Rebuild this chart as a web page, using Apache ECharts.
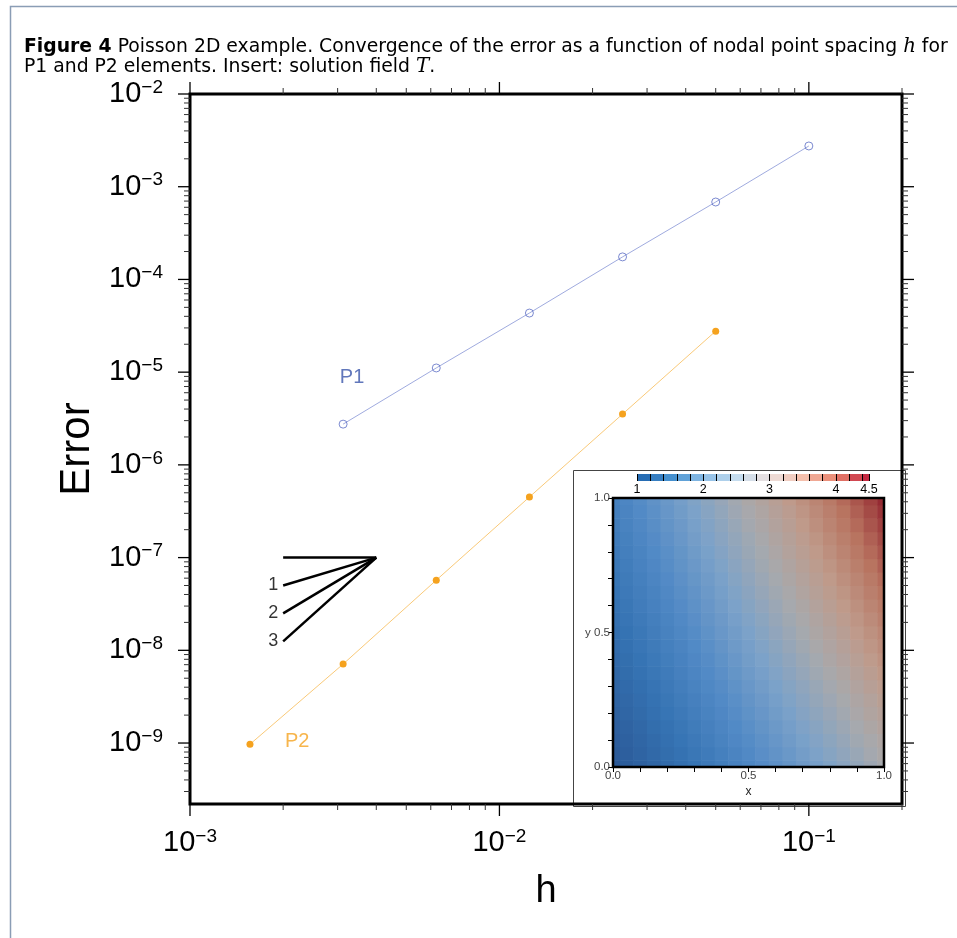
<!DOCTYPE html>
<html><head><meta charset="utf-8">
<script src="https://cdn.jsdelivr.net/npm/echarts@6/dist/echarts.min.js"></script>
<style>html,body{margin:0;padding:0;background:#fff}#c{width:957px;height:938px}</style>
</head><body><div id="c"></div><script>
// ---- data ----
const hP1 = [0.1, 0.05, 0.025, 0.0125, 0.00625, 0.003125];
const errP1 = [2.75e-3, 6.84e-4, 1.75e-4, 4.34e-5, 1.11e-5, 2.75e-6];
const hP2 = [0.05, 0.025, 0.0125, 0.00625, 0.003125, 0.0015625];
const errP2 = [2.77e-5, 3.53e-6, 4.5e-7, 5.71e-8, 7.1e-9, 9.7e-10];
const slopeX = [0.004, 0.002];
const slopeStart = 1e-7;
const slopeEnds = [1e-7, 5e-8, 2.5e-8, 1.25e-8];
const slopeLabels = ['', '1', '2', '3'];
const seriesNames = ['P1', 'P2'];
const nameLabelPos = [[0.00334, 8.85e-6], [0.00222, 1.05e-9]];
// inset field T on a 21x21 node grid (rows: y = 0 .. 1, cols: x = 0 .. 1)
const fieldX = [0,0.05,0.1,0.15,0.2,0.25,0.3,0.35,0.4,0.45,0.5,0.55,0.6,0.65,0.7,0.75,0.8,0.85,0.9,0.95,1];
const fieldY = [0,0.05,0.1,0.15,0.2,0.25,0.3,0.35,0.4,0.45,0.5,0.55,0.6,0.65,0.7,0.75,0.8,0.85,0.9,0.95,1];
const fieldT = [
  [1.00,1.09,1.17,1.26,1.35,1.44,1.54,1.63,1.73,1.83,1.93,2.03,2.13,2.23,2.34,2.44,2.55,2.66,2.77,2.89,3.00],
  [1.04,1.13,1.22,1.31,1.40,1.49,1.59,1.68,1.78,1.88,1.98,2.09,2.19,2.29,2.40,2.51,2.62,2.73,2.84,2.96,3.08],
  [1.08,1.17,1.26,1.35,1.45,1.54,1.64,1.74,1.84,1.94,2.04,2.14,2.25,2.36,2.47,2.58,2.69,2.80,2.92,3.03,3.15],
  [1.12,1.21,1.30,1.40,1.49,1.59,1.69,1.79,1.89,1.99,2.10,2.20,2.31,2.42,2.53,2.64,2.76,2.87,2.99,3.11,3.23],
  [1.16,1.25,1.35,1.44,1.54,1.64,1.74,1.84,1.94,2.05,2.16,2.26,2.37,2.48,2.60,2.71,2.82,2.94,3.06,3.18,3.30],
  [1.20,1.30,1.39,1.49,1.59,1.69,1.79,1.89,2.00,2.10,2.21,2.32,2.43,2.55,2.66,2.78,2.89,3.01,3.13,3.25,3.38],
  [1.24,1.34,1.43,1.53,1.63,1.74,1.84,1.95,2.05,2.16,2.27,2.38,2.49,2.61,2.72,2.84,2.96,3.08,3.20,3.33,3.45],
  [1.28,1.38,1.48,1.58,1.68,1.79,1.89,2.00,2.11,2.22,2.33,2.44,2.56,2.67,2.79,2.91,3.03,3.15,3.27,3.40,3.53],
  [1.32,1.42,1.52,1.62,1.73,1.83,1.94,2.05,2.16,2.27,2.39,2.50,2.62,2.73,2.85,2.97,3.10,3.22,3.35,3.47,3.60],
  [1.36,1.46,1.57,1.67,1.78,1.88,1.99,2.10,2.21,2.33,2.44,2.56,2.68,2.80,2.92,3.04,3.16,3.29,3.42,3.55,3.68],
  [1.40,1.50,1.61,1.72,1.82,1.93,2.04,2.16,2.27,2.38,2.50,2.62,2.74,2.86,2.98,3.11,3.23,3.36,3.49,3.62,3.75],
  [1.44,1.55,1.65,1.76,1.87,1.98,2.09,2.21,2.32,2.44,2.56,2.68,2.80,2.92,3.05,3.17,3.30,3.43,3.56,3.69,3.83],
  [1.48,1.59,1.70,1.81,1.92,2.03,2.14,2.26,2.38,2.50,2.62,2.74,2.86,2.99,3.11,3.24,3.37,3.50,3.63,3.77,3.90],
  [1.52,1.63,1.74,1.85,1.96,2.08,2.19,2.31,2.43,2.55,2.67,2.80,2.92,3.05,3.18,3.31,3.44,3.57,3.70,3.84,3.98],
  [1.56,1.67,1.78,1.90,2.01,2.13,2.24,2.36,2.48,2.61,2.73,2.86,2.98,3.11,3.24,3.37,3.50,3.64,3.77,3.91,4.05],
  [1.60,1.71,1.83,1.94,2.06,2.18,2.30,2.42,2.54,2.66,2.79,2.92,3.04,3.17,3.31,3.44,3.57,3.71,3.85,3.99,4.13],
  [1.64,1.75,1.87,1.99,2.10,2.22,2.35,2.47,2.59,2.72,2.85,2.97,3.10,3.24,3.37,3.50,3.64,3.78,3.92,4.06,4.20],
  [1.68,1.80,1.91,2.03,2.15,2.27,2.40,2.52,2.65,2.77,2.90,3.03,3.17,3.30,3.43,3.57,3.71,3.85,3.99,4.13,4.28],
  [1.72,1.84,1.96,2.08,2.20,2.32,2.45,2.57,2.70,2.83,2.96,3.09,3.23,3.36,3.50,3.64,3.78,3.92,4.06,4.21,4.35],
  [1.76,1.88,2.00,2.12,2.25,2.37,2.50,2.63,2.75,2.89,3.02,3.15,3.29,3.42,3.56,3.70,3.84,3.99,4.13,4.28,4.43],
  [1.80,1.92,2.04,2.17,2.29,2.42,2.55,2.68,2.81,2.94,3.08,3.21,3.35,3.49,3.63,3.77,3.91,4.06,4.20,4.35,4.50]
];
const tMin = 1, tMax = 4.5, cbStep = 0.2;
const cbLabels = [1, 2, 3, 4, 4.5];

// ---- axis ranges ----
const X_MIN = 0.001, X_MAX = 0.2, Y_MIN = 2.2e-10, Y_MAX = 1e-2;

const FONT = 'Liberation Sans';
const TFONT = 'DejaVu Sans';
const TSIZE = 18.8;
const chart = echarts.init(document.getElementById('c'), null, {renderer: 'canvas'});

function pow10Label(v) {
  const l = Math.log10(v);
  if (Math.abs(l - Math.round(l)) > 1e-6) return '';
  const n = Math.round(l);
  return '{b|10}{s|' + (n < 0 ? '\u2212' : '') + Math.abs(n) + '}';
}
const powRich = {
  b: {fontSize: 29, fontFamily: FONT, color: '#000', lineHeight: 32, verticalAlign: 'middle'},
  s: {fontSize: 19, fontFamily: FONT, color: '#000', lineHeight: 19, verticalAlign: 'top'}
};

// tick marks (major + minor) for the main frame
const tickData = [];
for (let d = -3; d <= -1; d++) for (let m = 1; m <= 9; m++) {
  const v = m * Math.pow(10, d);
  if (v > X_MAX * 1.0001) continue;
  tickData.push([v, Y_MIN, 0, m === 1 ? 1 : 0]);
  tickData.push([v, Y_MAX, 1, m === 1 ? 1 : 0]);
}
for (let d = -10; d <= -2; d++) for (let m = 1; m <= 9; m++) {
  const v = m * Math.pow(10, d);
  if (v < Y_MIN * 0.9999 || v > Y_MAX * 1.0001) continue;
  tickData.push([X_MIN, v, 2, m === 1 ? 1 : 0]);
  tickData.push([X_MAX, v, 3, m === 1 ? 1 : 0]);
}

const fieldData = [];
fieldY.forEach((y, j) => fieldX.forEach((x, i) => fieldData.push([x, y, fieldT[j][i]])));
const halfCell = (fieldX[1] - fieldX[0]) / 2;

const cbData = [];
for (let a = tMin; a < tMax - 1e-9; a = Math.round((a + cbStep) * 1e6) / 1e6) {
  const b = Math.min(tMax, Math.round((a + cbStep) * 1e6) / 1e6);
  cbData.push([a, b, (a + b) / 2]);
}

const titleRich = {
  b: {fontSize: TSIZE, fontFamily: TFONT, fontWeight: 'bold', fill: '#000'},
  n: {fontSize: TSIZE, fontFamily: TFONT, fill: '#000'},
  i: {fontSize: TSIZE + 1, fontFamily: 'DejaVu Serif', fontStyle: 'italic', fill: '#000'}
};

const option = {
  backgroundColor: '#fff',
  animation: false,
  graphic: [
    {type: 'rect', left: 8, top: 4, z: 0, shape: {width: 1000, height: 1000},
     style: {fill: 'none', stroke: '#8a9db5', lineWidth: 1.5}},
    {type: 'text', left: 24, top: 37, z: 5, style: {
      text: '{b|Figure 4}{n| Poisson 2D example. Convergence of the error as a function of nodal point spacing }{i|h}{n| for}',
      fontSize: TSIZE, fontFamily: TFONT, fill: '#000', rich: titleRich}},
    {type: 'text', left: 24, top: 57, z: 5, style: {
      text: '{n|P1 and P2 elements. Insert: solution field }{i|T}{n|.}',
      fontSize: TSIZE, fontFamily: TFONT, fill: '#000', rich: titleRich}},
    {type: 'rect', left: 573, top: 470, z: 1, shape: {width: 332, height: 336},
     style: {fill: '#fff', stroke: '#444', lineWidth: 1}}
  ],
  grid: [
    {left: 190, top: 94, width: 712, height: 710, show: true, borderColor: '#000', borderWidth: 3, z: 10},
    {left: 613, top: 498, width: 271, height: 269, show: true, borderColor: '#000', borderWidth: 2.5, z: 8},
    {left: 637, top: 474, width: 232, height: 7, show: false}
  ],
  xAxis: [
    {gridIndex: 0, type: 'log', logBase: 10, min: X_MIN, max: X_MAX,
     axisLine: {show: false}, axisTick: {show: false}, splitLine: {show: false}, minorTick: {show: false},
     axisLabel: {formatter: pow10Label, rich: powRich, margin: 23},
     name: 'h', nameLocation: 'middle', nameGap: 69,
     nameTextStyle: {fontSize: 38, fontFamily: FONT, color: '#000'}},
    {gridIndex: 1, type: 'value', min: 0, max: 1, interval: 0.1, z: 9,
     axisLine: {show: false}, splitLine: {show: false},
     axisTick: {show: true, length: 5, lineStyle: {color: '#000', width: 1}},
     axisLabel: {formatter: v => (Math.abs(v * 2 - Math.round(v * 2)) < 1e-6 ? v.toFixed(1) : ''),
                 fontSize: 11.5, fontFamily: FONT, color: '#444', margin: 3},
     name: 'x', nameLocation: 'middle', nameGap: 19, nameTextStyle: {fontSize: 12, fontFamily: FONT, color: '#222'}},
    {gridIndex: 2, type: 'value', min: tMin, max: tMax, interval: cbStep, z: 9,
     axisLine: {show: false}, splitLine: {show: false},
     axisTick: {show: true, inside: true, length: 7, lineStyle: {color: '#000', width: 1}},
     axisLabel: {formatter: v => (cbLabels.some(c => Math.abs(c - v) < 1e-6) ? String(Math.round(v * 10) / 10) : ''),
                 fontSize: 12.5, fontFamily: FONT, color: '#000', margin: 2}}
  ],
  yAxis: [
    {gridIndex: 0, type: 'log', logBase: 10, min: Y_MIN, max: Y_MAX,
     axisLine: {show: false}, axisTick: {show: false}, splitLine: {show: false}, minorTick: {show: false},
     axisLabel: {formatter: pow10Label, rich: powRich, margin: 27},
     name: 'Error', nameLocation: 'middle', nameGap: 88,
     nameTextStyle: {fontSize: 42, fontFamily: FONT, color: '#000'}},
    {gridIndex: 1, type: 'value', min: 0, max: 1, interval: 0.1, z: 9,
     axisLine: {show: false}, splitLine: {show: false},
     axisTick: {show: true, length: 5, lineStyle: {color: '#000', width: 1}},
     axisLabel: {formatter: v => (Math.abs(v - 0.5) < 1e-6 ? 'y 0.5' : (Math.abs(v) < 1e-6 || Math.abs(v - 1) < 1e-6 ? v.toFixed(1) : '')),
                 fontSize: 11.5, fontFamily: FONT, color: '#444', margin: 3}},
    {gridIndex: 2, type: 'value', min: 0, max: 1, show: false}
  ],
  visualMap: [
    {type: 'continuous', show: false, seriesIndex: 6, dimension: 2, min: tMin, max: tMax,
     inRange: {color: ['#2a5896', '#3573b3', '#528ac6', '#7ca2c9', '#a7a9ad', '#bf9a8a', '#b8735f', '#952b33']}},
    {type: 'continuous', show: false, seriesIndex: 7, dimension: 2, min: tMin, max: tMax,
     inRange: {color: ['#1f64ad', '#4590cf', '#8cbde6', '#c5dcee', '#ece0de', '#f5c0ad', '#e8846f', '#c1203d']}}
  ],
  series: [
    {name: seriesNames[0], type: 'line', xAxisIndex: 0, yAxisIndex: 0,
     data: hP1.map((h, i) => [h, errP1[i]]),
     symbol: 'circle', symbolSize: 8, showSymbol: true,
     lineStyle: {color: '#7585d0', width: 0.7},
     itemStyle: {color: 'rgba(255,255,255,0)', borderColor: '#5a6cc4', borderWidth: 0.8}, z: 3},
    {name: seriesNames[1], type: 'line', xAxisIndex: 0, yAxisIndex: 0,
     data: hP2.map((h, i) => [h, errP2[i]]),
     symbol: 'circle', symbolSize: 7,
     lineStyle: {color: '#f8bb55', width: 0.8},
     itemStyle: {color: '#f5a21e'}, z: 3},
    {type: 'lines', coordinateSystem: 'cartesian2d', xAxisIndex: 0, yAxisIndex: 0,
     data: slopeEnds.map(e => ({coords: [[slopeX[0], slopeStart], [slopeX[1], e]]})),
     lineStyle: {color: '#000', width: 2.5, opacity: 1}, z: 3},
    {type: 'scatter', xAxisIndex: 0, yAxisIndex: 0, symbolSize: 0,
     data: slopeEnds.map((e, i) => ({value: [slopeX[1], e], label: {show: slopeLabels[i] !== '', formatter: slopeLabels[i]}})),
     label: {position: 'left', distance: 5, fontSize: 18, fontFamily: FONT, color: '#000'}, z: 4},
    {type: 'scatter', xAxisIndex: 0, yAxisIndex: 0, symbolSize: 0,
     data: nameLabelPos.map((p, i) => ({value: p, label: {show: true, formatter: seriesNames[i],
       color: i === 0 ? '#3a55aa' : '#f5a31f'}})),
     label: {position: 'inside', fontSize: 20, fontFamily: FONT}, z: 4},
    {type: 'custom', xAxisIndex: 0, yAxisIndex: 0, data: tickData, z: 12, silent: true,
     renderItem: function (params, api) {
       const p = api.coord([api.value(0), api.value(1)]);
       const side = api.value(2), major = api.value(3);
       const len = major ? 12 : 6;
       let x2 = p[0], y2 = p[1];
       if (side === 0) y2 += len; else if (side === 1) y2 -= len;
       else if (side === 2) x2 -= len; else x2 += len;
       return {type: 'line', shape: {x1: p[0], y1: p[1], x2: x2, y2: y2},
               style: {stroke: major ? '#000' : '#333', lineWidth: major ? 1.3 : 1}};
     }},
    {type: 'custom', xAxisIndex: 1, yAxisIndex: 1, data: fieldData, z: 2, silent: true,
     renderItem: function (params, api) {
       const x = api.value(0), y = api.value(1);
       const x0 = Math.max(0, x - halfCell), x1 = Math.min(1, x + halfCell);
       const y0 = Math.max(0, y - halfCell), y1 = Math.min(1, y + halfCell);
       const a = api.coord([x0, y1]), b = api.coord([x1, y0]);
       return {type: 'rect', shape: {x: a[0], y: a[1], width: b[0] - a[0] + 0.6, height: b[1] - a[1] + 0.6},
               style: {fill: api.visual('color')}};
     }},
    {type: 'custom', xAxisIndex: 2, yAxisIndex: 2, data: cbData, z: 2, silent: true,
     renderItem: function (params, api) {
       const a = api.coord([api.value(0), 1]), b = api.coord([api.value(1), 0]);
       return {type: 'rect', shape: {x: a[0], y: a[1], width: b[0] - a[0] + 0.5, height: b[1] - a[1]},
               style: {fill: api.visual('color')}};
     }}
  ]
};
chart.setOption(option);
</script></body></html>
